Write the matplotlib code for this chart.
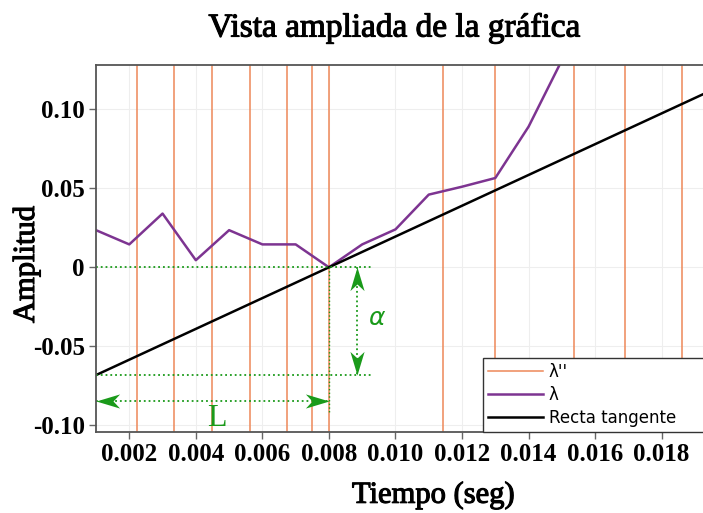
import numpy as np
import matplotlib
matplotlib.use("Agg")
import matplotlib.pyplot as plt
import matplotlib.patheffects as pe
from matplotlib.path import Path
from matplotlib.markers import MarkerStyle

# --- data -------------------------------------------------------------
t = [0.001, 0.002, 0.003, 0.004, 0.005, 0.006, 0.007, 0.008,
     0.009, 0.010, 0.011, 0.012, 0.013, 0.014, 0.015, 0.016]
lam = [0.0235, 0.0145, 0.034, 0.0045, 0.0235, 0.0145, 0.0145, 0.0,
       0.0145, 0.024, 0.046, 0.051, 0.0565, 0.089, 0.131, 0.19]

# zero crossings of the second derivative
lam2_x = [0.00223, 0.00335, 0.00448, 0.00562, 0.00675, 0.0075, 0.0080,
          0.01142, 0.01298, 0.01535, 0.0169, 0.0186]

t0 = 0.008            # tangent point
slope = 9.74          # tangent slope
x_start = 0.001
x_end = 0.0195

xticks = [0.002, 0.004, 0.006, 0.008, 0.010, 0.012, 0.014, 0.016, 0.018]
xticklabels = ["0.002", "0.004", "0.006", "0.008", "0.010", "0.012",
               "0.014", "0.016", "0.018"]
yticks = [-0.10, -0.05, 0.0, 0.05, 0.10]
yticklabels = ["-0.10", "-0.05", "0", "0.05", "0.10"]

# --- figure -----------------------------------------------------------
W, H = 703, 513
fig = plt.figure(figsize=(W / 100, H / 100), dpi=100)
ax_w_px = 711.6 - 96
ax = fig.add_axes([96 / W, 81.3 / H, ax_w_px / W, (431.7 - 65) / H])

orange = "#EE8858"
purple = "#7D3491"
green = "#1A9A1A"
serif = "Liberation Serif"
heavy = [pe.withStroke(linewidth=0.8, foreground="black")]

ax.grid(True, color="#EEEEEE", lw=0.8)
ax.set_axisbelow(True)

for i, xv in enumerate(lam2_x):
    ax.axvline(xv, color=orange, lw=1.1, label="λ''" if i == 0 else None)

ax.plot(t, lam, color=purple, lw=1.8, label="λ")

xx = np.array([x_start, x_end])
tang = slope * (xx - t0)
ax.plot(xx, tang, color="black", lw=1.8, label="Recta tangente")

# --- annotations ------------------------------------------------------
y_low = slope * (x_start - t0)
x_ann_end = 0.00925
x_varrow = 0.00885
y_harrow = -0.0844

ax.plot([x_start, x_ann_end], [0, 0], ls=":", color=green, lw=1.3)
ax.plot([x_start, x_ann_end], [y_low, y_low], ls=":", color=green, lw=1.3)
ax.plot([t0, t0], [0, -0.092], ls=":", color=green, lw=1.0)
ax.plot([x_varrow, x_varrow], [0, y_low], ls=":", color=green, lw=1.3)
ax.plot([x_start, t0], [y_harrow, y_harrow], ls=":", color=green, lw=1.3)


def head(angle):
    """Stealth-style arrow head marker pointing at `angle` degrees, tip at origin."""
    verts = np.array([[0, 0], [-1, 0.3], [-0.72, 0], [-1, -0.3], [0, 0]])
    a = np.deg2rad(angle)
    rot = np.array([[np.cos(a), -np.sin(a)], [np.sin(a), np.cos(a)]])
    verts = verts @ rot.T
    codes = [Path.MOVETO, Path.LINETO, Path.LINETO, Path.LINETO, Path.CLOSEPOLY]
    return MarkerStyle(Path(verts, codes))


ms = 34
ax.plot([x_varrow], [0], marker=head(90), ms=ms, color=green, mew=0, ls="none")
ax.plot([x_varrow], [y_low], marker=head(-90), ms=ms, color=green, mew=0, ls="none")
ax.plot([x_start], [y_harrow], marker=head(180), ms=ms, color=green, mew=0,
        ls="none", clip_on=False)
ax.plot([t0], [y_harrow], marker=head(0), ms=ms, color=green, mew=0, ls="none")

ax.text(0.00946, -0.032, r"$\alpha$", color=green, fontsize=18,
        ha="center", va="center")
ax.text(0.00463, -0.0955, "L", color=green, fontsize=23, family=serif,
        ha="center", va="center")

# --- axes styling -----------------------------------------------------
ax.set_xlim(x_start, x_end)
ax.set_ylim(-0.104, 0.128)
ax.set_xticks(xticks)
ax.set_xticklabels(xticklabels)
ax.set_yticks(yticks)
ax.set_yticklabels(yticklabels)
for lab in ax.get_xticklabels() + ax.get_yticklabels():
    lab.set_family(serif)
    lab.set_fontweight("bold")
    lab.set_fontsize(18)
ax.tick_params(direction="out", length=5, width=1, color="#666666", pad=3)

for side in ("left", "bottom", "top"):
    ax.spines[side].set_color("#555555")
    ax.spines[side].set_linewidth(1.3)
ax.spines["right"].set_visible(False)

ax.set_xlabel("Tiempo (seg)", family=serif, fontsize=22, path_effects=heavy)
ax.xaxis.set_label_coords((433 - 96) / ax_w_px, (432 - 481) / 366.7)
ax.set_ylabel("Amplitud", family=serif, fontsize=22, path_effects=heavy)
ax.yaxis.set_label_coords((41 - 96) / ax_w_px, (432 - 265) / 366.7)
fig.text(394.5 / W, 1 - 28 / H, "Vista ampliada de la gráfica",
         family=serif, fontsize=24, ha="center", va="center",
         path_effects=heavy)

leg_x0 = (483 - 96) / ax_w_px
leg = ax.legend(loc="lower left", bbox_to_anchor=(leg_x0, 0, 1 - leg_x0, 0.2),
                mode="expand", borderaxespad=0, fontsize=12, handlelength=3.3,
                handletextpad=0.35, fancybox=False, edgecolor="#333333",
                framealpha=1, borderpad=0.3, labelspacing=0.3)
leg.get_frame().set_linewidth(1.0)

fig.savefig("out.png", dpi=100)
